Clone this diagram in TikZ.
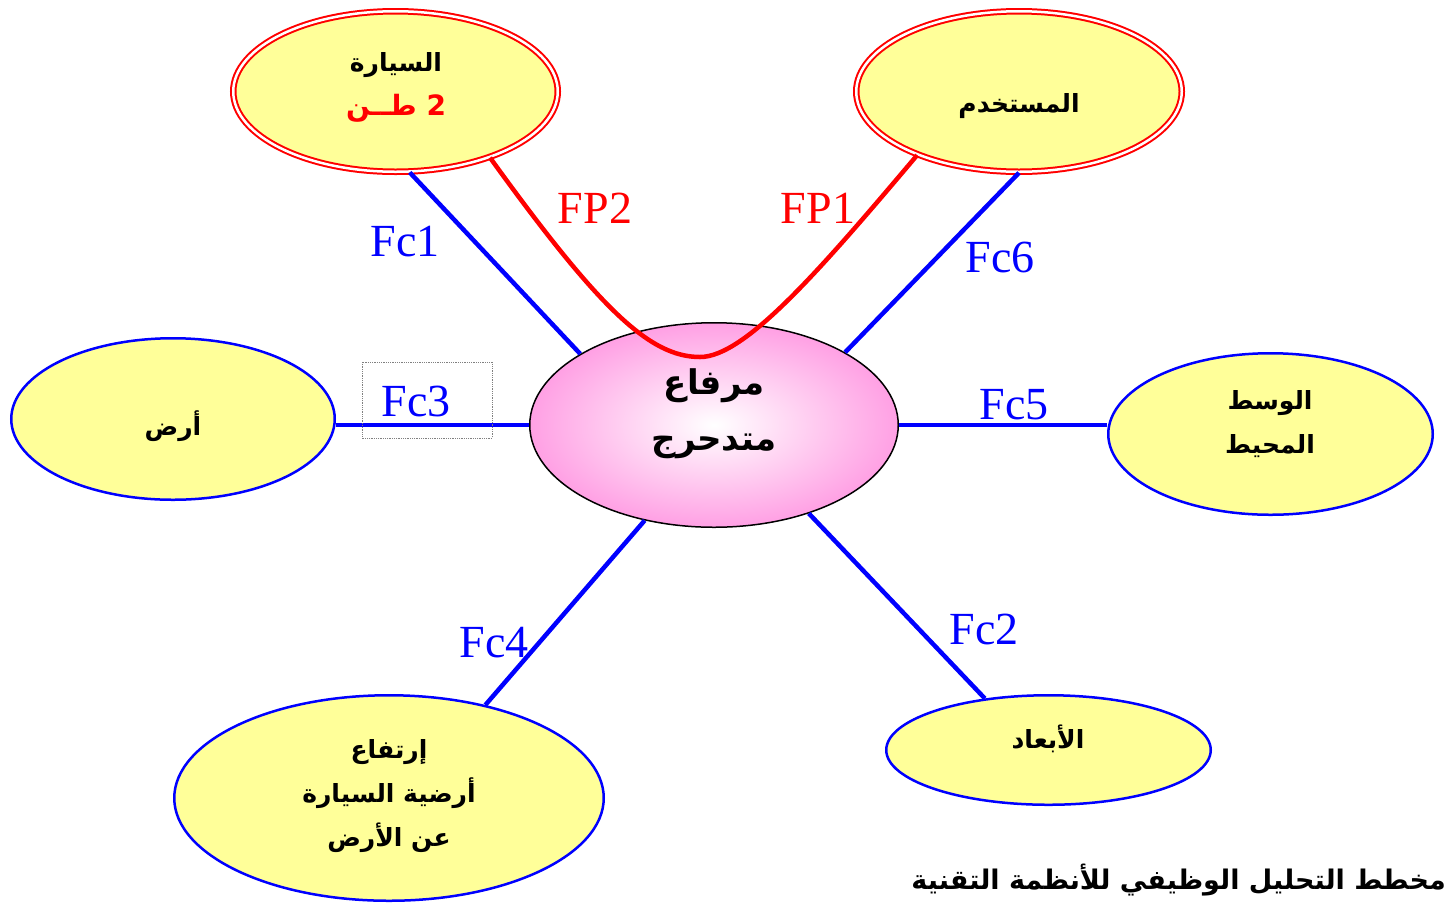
\documentclass[tikz,border=0pt]{standalone}
\usepackage{fontspec}
\usetikzlibrary{shapes.geometric}
\TeXXeTstate=1
\newfontfamily\arabicfont[Script=Arabic]{DejaVu Sans}
\newfontfamily\latinserif{Liberation Serif}
\newcommand{\artext}[1]{\beginR #1\endR}
\definecolor{paleyellow}{RGB}{255,255,153}
\definecolor{hubpink}{RGB}{255,160,228}
\begin{document}
\begin{tikzpicture}[x=1pt,y=-1pt,
  blueoval/.style={ellipse, fill=paleyellow, draw=blue, line width=2.5pt, inner sep=0},
  redoval/.style={ellipse, fill=paleyellow, draw=red, line width=2pt, double=white, double distance=2.5pt, inner sep=0},
  huboval/.style={ellipse, draw=black, line width=1.5pt, inner sep=0, inner color=white, outer color=hubpink},
  fcline/.style={blue, line width=4.5pt},
  fpline/.style={red, line width=4.5pt},
  fclabel/.style={font=\latinserif\fontsize{46}{46}\selectfont, inner sep=0},
  artxt/.style={font=\arabicfont\bfseries\fontsize{25}{44}\selectfont, align=center, inner sep=0},
  hubtxt/.style={font=\arabicfont\bfseries\fontsize{34}{56}\selectfont, align=center, inner sep=0}
]
\useasboundingbox (0,0) rectangle (1447,906);

% nodes of the functional diagram
\node[redoval, minimum width=324.5pt, minimum height=160.5pt] (car) at (395.5,91.5) {};
\node[redoval, minimum width=325.5pt, minimum height=160.5pt] (user) at (1019,91.5) {};
\node[blueoval, minimum width=323.5pt, minimum height=161.5pt] (ground) at (173,419) {};
\node[blueoval, minimum width=324.5pt, minimum height=161.5pt] (env) at (1270.5,434) {};
\node[blueoval, minimum width=429.5pt, minimum height=205.5pt] (height) at (389,798) {};
\node[blueoval, minimum width=324.5pt, minimum height=109.5pt] (dims) at (1048.5,750) {};

% central element
\node[huboval, minimum width=368.5pt, minimum height=204.5pt] (hub) at (714,425) {};

% connectors (constraint functions)
\draw[fcline] (car.-80) -- (hub.152.4);
\draw[fcline] (user.-90) -- (hub.29.8);
\draw[fcline] (hub.234.6) -- (height.44.1);
\draw[fcline] (hub.-43.8) -- (dims.141.8);
\draw[fcline] (hub.west) -- (hub.west -| ground.east);
\draw[fcline] (hub.east) -- (hub.east -| env.west);

% main function through the product
\draw[fpline] (car.-35) .. controls (600,310) and (650,357) .. (700,357)
  .. controls (745,357) and (820,270) .. (user.212.7);

% node texts
\node[artxt] (cartxt) at (396,87) {\artext{السيارة}\\ \color{red}\fontsize{28}{44}\selectfont\artext{2 طــن}};
\node[artxt] (usertxt) at (1019,106) {\artext{المستخدم}};
\node[hubtxt] (hubtxtn) at (714,414) {\artext{مرفاع}\\ \artext{متدحرج}};
\node[artxt] (groundtxt) at (173,426) {\artext{أرض}};
\node[artxt] (envtxt) at (1270,424) {\artext{الوسط}\\ \artext{المحيط}};
\node[artxt] (heighttxt) at (389,796) {\artext{إرتفاع}\\ \artext{أرضية السيارة}\\ \artext{عن الأرض}};
\node[artxt] (dimstxt) at (1048,739) {\artext{الأبعاد}};

% function labels
\draw[gray, densely dotted, line width=0.8pt] (362,362) rectangle (492,438);
\node[fclabel, blue] (fc1) at (405,242) {Fc1};
\node[fclabel, red] (fp2) at (595,208) {FP2};
\node[fclabel, red] (fp1) at (818,208) {FP1};
\node[fclabel, blue] (fc6) at (1000,257) {Fc6};
\node[fclabel, blue] (fc3) at (416,401) {Fc3};
\node[fclabel, blue] (fc5) at (1014,405) {Fc5};
\node[fclabel, blue] (fc4) at (494,643) {Fc4};
\node[fclabel, blue] (fc2) at (984,629) {Fc2};

% caption
\node[font=\arabicfont\bfseries\fontsize{27}{27}\selectfont, inner sep=0, anchor=east] (caption) at (1446,880) {\artext{مخطط التحليل الوظيفي للأنظمة التقنية}};
\end{tikzpicture}
\end{document}
